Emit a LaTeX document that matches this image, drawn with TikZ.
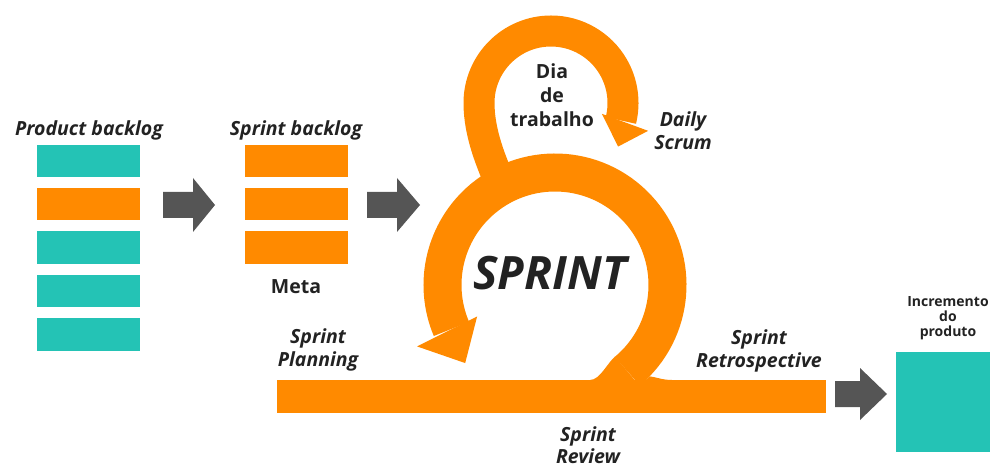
\documentclass[tikz,border=0pt]{standalone}
\usepackage{fontspec}
\setmainfont{Open Sans}
\usetikzlibrary{calc}
\definecolor{org}{HTML}{FF8A00}
\definecolor{teal2}{HTML}{24C3B5}
\definecolor{gry}{HTML}{555555}
\definecolor{txt}{HTML}{222222}
\tikzset{
  bar/.style={fill=#1, draw=none},
  lbl/.style={text=txt, align=center, inner sep=0pt, font=\bfseries\itshape\fontsize{19.5}{23}\selectfont},
  ulbl/.style={text=txt, align=center, inner sep=0pt, font=\bfseries\fontsize{19.5}{24}\selectfont},
  ring/.style={draw=org, line width=38pt},
  sring/.style={draw=org, line width=31pt},
  garrow/.style={fill=gry, draw=none}
}
\begin{document}
\begin{tikzpicture}[x=1pt,y=1pt]
\useasboundingbox (0,0) rectangle (990,469);
% product backlog bars
\path[bar=teal2] (37,292) rectangle (140,324) coordinate (pb1);
\path[bar=org]   (37,249) rectangle (140,281) coordinate (pb2);
\path[bar=teal2] (37,205) rectangle (140,238) coordinate (pb3);
\path[bar=teal2] (37,162) rectangle (140,194) coordinate (pb4);
\path[bar=teal2] (37,118) rectangle (140,151) coordinate (pb5);
\node[lbl] (pbl) at (89,339) {Product backlog};
% sprint backlog bars
\path[bar=org] (245,292) rectangle (348,324) coordinate (sb1);
\path[bar=org] (245,249) rectangle (348,281) coordinate (sb2);
\path[bar=org] (245,205) rectangle (348,238) coordinate (sb3);
\node[lbl] (sbl) at (296,339) {Sprint backlog};
\node[ulbl] (meta) at (296,182) {Meta};
% gray arrows
\fill[garrow] (163,251) -- (193,251) -- (193,237) -- (215,264) -- (193,291) -- (193,277) -- (163,277) -- cycle;
\fill[garrow] (367,251) -- (397,251) -- (397,237) -- (420,264) -- (397,291) -- (397,277) -- (367,277) -- cycle;
\fill[garrow] (835,62) -- (860,62) -- (860,49) -- (887,75) -- (860,101) -- (860,88) -- (835,88) -- cycle;
% big ring
\coordinate (C) at (555,184);
\draw[ring] ($(C)+(-50:112.5)$) arc[start angle=-50, end angle=203, radius=112.5];
\fill[org] ($(C)+(-50:93.5)$) .. controls (607.5,106.5) and (600,89) .. (590,89)
   -- (672,89) .. controls (662,89) and (656,92) .. ($(C)+(-44:131.5)$)
   -- ($(C)+(-50:131.5)$) -- cycle;
\fill[org] ($(C)+(202:84)$) -- ($(C)+(204:151)$) -- ($(C)+(221:119)$) -- cycle;
% small ring
\coordinate (S) at (551,366);
\draw[sring] (502,282) .. controls (492,305) and (479,335) .. (479,366)
   arc[start angle=180, end angle=-14, radius=72];
\fill[org] ($(S)+(-12:52)$) -- ($(S)+(-16:101)$) -- ($(S)+(-33:80)$) -- cycle;
% bar
\path[bar=org] (277,56) rectangle (826,89);
% teal increment box
\path[bar=teal2] (896,17) rectangle (995,117);
% labels
\node[font=\bfseries\itshape\fontsize{46}{50}\selectfont, text=txt, inner sep=0pt] (spr) at (550,196) {SPRINT};
\node[ulbl] (dia) at (552,374) {Dia\\de\\trabalho};
\node[lbl] (daily) at (683,338) {Daily\\Scrum};
\node[lbl] (plan) at (318,119) {Sprint\\Planning};
\node[lbl, font=\bfseries\itshape\fontsize{19.5}{22}\selectfont] (rev) at (588,24) {Sprint\\Review};
\node[lbl] (retro) at (759,118) {Sprint\\Retrospective};
\node[text=txt, align=center, inner sep=0pt, font=\bfseries\fontsize{14}{15}\selectfont] (inc) at (948,151) {Incremento\\do\\produto};
\end{tikzpicture}
\end{document}
